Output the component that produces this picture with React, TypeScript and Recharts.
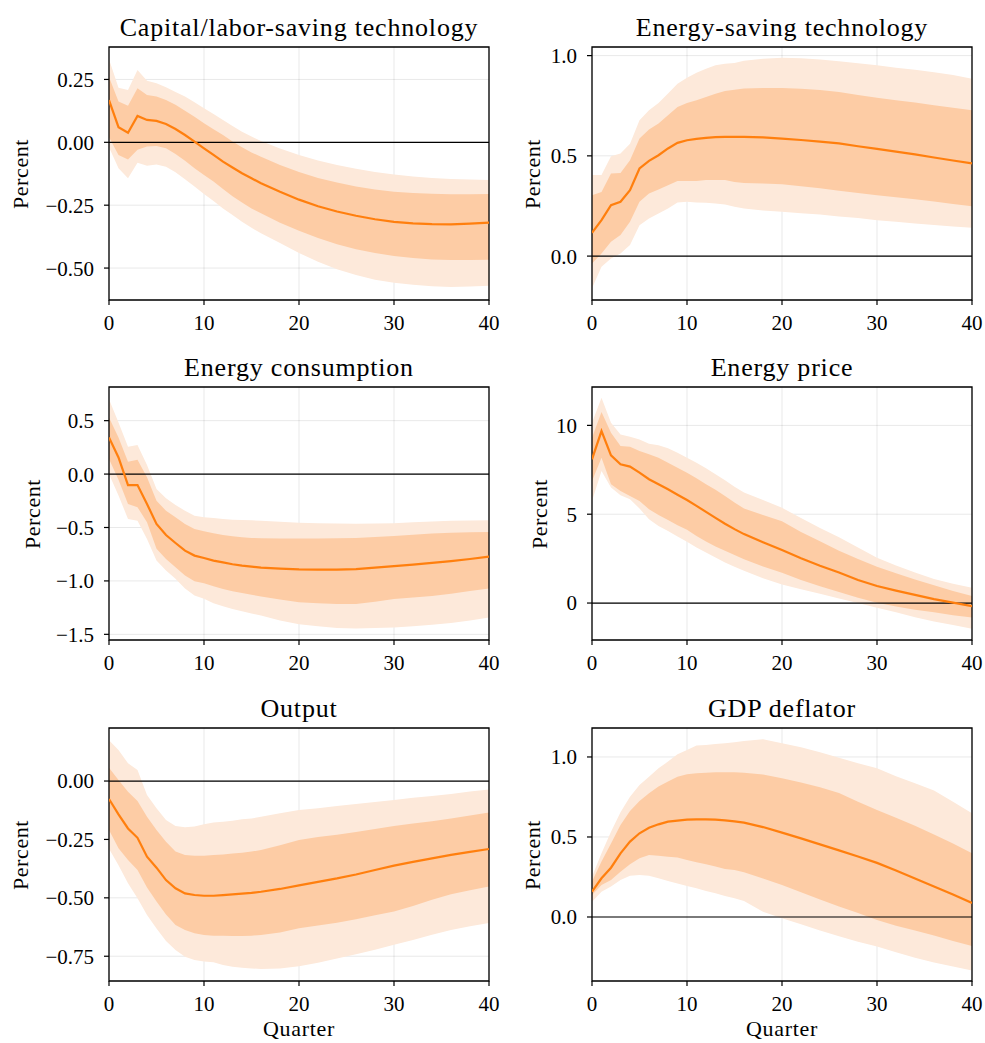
import { ComposedChart, Area, Line, XAxis, YAxis, CartesianGrid, ReferenceLine, ReferenceArea } from "recharts";

const FONT = '"Liberation Serif", "Times New Roman", serif';

// quarters (every quarter early on, every other one later)
const QUARTERS = [0, 1, 2, 3, 4, 5, 6, 7, 8, 9, 10, 11, 12, 13, 14, 15, 16, 18, 20, 22, 24, 26, 28, 30, 32, 34, 36, 38, 40];
const X_TICKS = [0, 10, 20, 30, 40];

// Capital/labor-saving technology
const CAP_MED = [0.168, 0.06, 0.038, 0.105, 0.089, 0.085, 0.073, 0.053, 0.029, 0.003, -0.024, -0.05, -0.077, -0.1, -0.123, -0.143, -0.163, -0.197, -0.228, -0.254, -0.275, -0.292, -0.306, -0.316, -0.322, -0.325, -0.326, -0.323, -0.319];
const CAP_IN_HI = [0.26, 0.162, 0.145, 0.215, 0.188, 0.182, 0.168, 0.149, 0.126, 0.102, 0.076, 0.052, 0.029, 0.003, -0.02, -0.04, -0.057, -0.09, -0.118, -0.142, -0.16, -0.176, -0.188, -0.197, -0.202, -0.205, -0.207, -0.207, -0.206];
const CAP_IN_LO = [0.02, -0.05, -0.068, -0.03, -0.017, -0.015, -0.024, -0.046, -0.073, -0.103, -0.13, -0.156, -0.186, -0.214, -0.239, -0.263, -0.282, -0.32, -0.352, -0.38, -0.405, -0.425, -0.44, -0.452, -0.46, -0.466, -0.468, -0.468, -0.467];
const CAP_OUT_HI = [0.33, 0.217, 0.208, 0.288, 0.245, 0.235, 0.219, 0.2, 0.182, 0.159, 0.135, 0.113, 0.089, 0.065, 0.042, 0.023, 0.005, -0.025, -0.05, -0.072, -0.09, -0.105, -0.118, -0.128, -0.136, -0.142, -0.146, -0.148, -0.15];
const CAP_OUT_LO = [-0.02, -0.103, -0.143, -0.081, -0.093, -0.088, -0.097, -0.119, -0.147, -0.176, -0.206, -0.233, -0.263, -0.289, -0.316, -0.34, -0.362, -0.4, -0.44, -0.475, -0.505, -0.528, -0.546, -0.558, -0.566, -0.572, -0.575, -0.573, -0.57];

// Energy-saving technology
const ES_MED = [0.116, 0.179, 0.254, 0.271, 0.329, 0.437, 0.475, 0.503, 0.537, 0.565, 0.578, 0.585, 0.59, 0.593, 0.595, 0.595, 0.595, 0.592, 0.586, 0.579, 0.571, 0.562, 0.548, 0.535, 0.521, 0.507, 0.492, 0.477, 0.462];
const ES_IN_HI = [0.304, 0.32, 0.412, 0.415, 0.478, 0.586, 0.631, 0.661, 0.703, 0.744, 0.764, 0.777, 0.794, 0.81, 0.824, 0.83, 0.836, 0.838, 0.839, 0.835, 0.828, 0.818, 0.803, 0.79, 0.778, 0.766, 0.752, 0.74, 0.728];
const ES_IN_LO = [-0.037, 0.013, 0.071, 0.105, 0.171, 0.271, 0.312, 0.332, 0.354, 0.374, 0.375, 0.375, 0.379, 0.379, 0.379, 0.37, 0.365, 0.362, 0.359, 0.348, 0.338, 0.326, 0.315, 0.304, 0.294, 0.284, 0.272, 0.26, 0.249];
const ES_OUT_HI = [0.404, 0.404, 0.498, 0.512, 0.561, 0.678, 0.728, 0.764, 0.811, 0.86, 0.89, 0.915, 0.935, 0.952, 0.96, 0.963, 0.975, 0.985, 0.99, 0.987, 0.981, 0.972, 0.962, 0.952, 0.94, 0.93, 0.917, 0.903, 0.885];
const ES_OUT_LO = [-0.16, -0.053, -0.012, 0.013, 0.055, 0.154, 0.188, 0.213, 0.238, 0.267, 0.271, 0.267, 0.266, 0.262, 0.257, 0.246, 0.238, 0.228, 0.221, 0.214, 0.208, 0.198, 0.19, 0.179, 0.171, 0.163, 0.155, 0.148, 0.141];

// Energy consumption
const EC_MED = [0.343, 0.156, -0.103, -0.103, -0.28, -0.467, -0.57, -0.645, -0.717, -0.763, -0.785, -0.81, -0.826, -0.844, -0.857, -0.866, -0.875, -0.885, -0.892, -0.895, -0.894, -0.89, -0.876, -0.862, -0.848, -0.832, -0.815, -0.795, -0.773];
const EC_IN_HI = [0.53, 0.343, 0.115, 0.134, -0.03, -0.25, -0.343, -0.405, -0.467, -0.514, -0.536, -0.555, -0.57, -0.583, -0.592, -0.598, -0.601, -0.603, -0.604, -0.603, -0.601, -0.598, -0.59, -0.58, -0.568, -0.556, -0.548, -0.545, -0.542];
const EC_IN_LO = [0.14, -0.053, -0.28, -0.31, -0.45, -0.7, -0.794, -0.872, -0.95, -1.003, -1.022, -1.05, -1.075, -1.097, -1.112, -1.13, -1.146, -1.175, -1.2, -1.21, -1.217, -1.215, -1.195, -1.17, -1.155, -1.14, -1.12, -1.095, -1.07];
const EC_OUT_HI = [0.7, 0.483, 0.255, 0.271, 0.084, -0.14, -0.227, -0.29, -0.343, -0.39, -0.405, -0.411, -0.42, -0.427, -0.43, -0.433, -0.436, -0.446, -0.455, -0.46, -0.463, -0.464, -0.462, -0.46, -0.452, -0.444, -0.438, -0.435, -0.433];
const EC_OUT_LO = [0.0, -0.2, -0.42, -0.436, -0.607, -0.81, -0.903, -0.98, -1.07, -1.137, -1.168, -1.209, -1.237, -1.262, -1.283, -1.305, -1.324, -1.37, -1.405, -1.425, -1.44, -1.445, -1.44, -1.436, -1.425, -1.41, -1.395, -1.37, -1.343];

// Energy price
const EP_MED = [8.09, 9.68, 8.31, 7.81, 7.68, 7.34, 6.97, 6.69, 6.4, 6.1, 5.8, 5.47, 5.13, 4.79, 4.46, 4.16, 3.88, 3.42, 2.98, 2.52, 2.1, 1.72, 1.3, 0.96, 0.7, 0.46, 0.22, 0.02, -0.17];
const EP_IN_HI = [9.31, 10.75, 9.59, 8.84, 8.8, 8.56, 8.37, 8.18, 7.9, 7.62, 7.34, 7.02, 6.69, 6.37, 6.03, 5.66, 5.32, 4.95, 4.6, 4.0, 3.48, 2.95, 2.48, 2.04, 1.68, 1.32, 1.0, 0.68, 0.39];
const EP_IN_LO = [6.87, 8.18, 6.69, 6.31, 6.03, 5.75, 5.28, 4.96, 4.68, 4.38, 4.12, 3.78, 3.46, 3.18, 2.94, 2.7, 2.47, 2.05, 1.7, 1.3, 0.95, 0.62, 0.3, 0.02, -0.2, -0.38, -0.52, -0.68, -0.82];
const EP_OUT_HI = [10.15, 11.55, 10.15, 9.49, 9.36, 9.21, 8.97, 8.88, 8.71, 8.46, 8.18, 7.9, 7.58, 7.25, 6.91, 6.55, 6.22, 5.8, 5.36, 4.78, 4.22, 3.7, 3.12, 2.55, 2.12, 1.72, 1.36, 1.08, 0.86];
const EP_OUT_LO = [5.75, 7.43, 6.5, 6.07, 5.84, 5.32, 4.72, 4.34, 4.06, 3.75, 3.45, 3.13, 2.85, 2.57, 2.28, 2.04, 1.82, 1.4, 1.05, 0.78, 0.52, 0.25, 0.0, -0.26, -0.52, -0.8, -1.04, -1.24, -1.44];

// Output
const OUT_MED = [-0.077, -0.143, -0.203, -0.243, -0.324, -0.371, -0.424, -0.459, -0.481, -0.488, -0.491, -0.491, -0.488, -0.485, -0.482, -0.479, -0.474, -0.462, -0.447, -0.432, -0.417, -0.4, -0.381, -0.362, -0.346, -0.331, -0.316, -0.303, -0.291];
const OUT_IN_HI = [0.057, 0.004, -0.046, -0.086, -0.153, -0.21, -0.26, -0.302, -0.317, -0.32, -0.32, -0.317, -0.314, -0.31, -0.307, -0.302, -0.295, -0.275, -0.252, -0.24, -0.23, -0.218, -0.205, -0.192, -0.182, -0.172, -0.16, -0.148, -0.135];
const OUT_IN_LO = [-0.21, -0.288, -0.338, -0.381, -0.456, -0.516, -0.571, -0.616, -0.638, -0.652, -0.659, -0.662, -0.662, -0.663, -0.663, -0.662, -0.659, -0.648, -0.63, -0.618, -0.607, -0.592, -0.575, -0.558, -0.535, -0.508, -0.485, -0.468, -0.452];
const OUT_OUT_HI = [0.175, 0.133, 0.076, 0.047, -0.06, -0.117, -0.167, -0.193, -0.198, -0.195, -0.185, -0.178, -0.174, -0.17, -0.164, -0.16, -0.153, -0.138, -0.124, -0.116, -0.107, -0.098, -0.09, -0.081, -0.072, -0.064, -0.055, -0.045, -0.036];
const OUT_OUT_LO = [-0.29, -0.36, -0.438, -0.502, -0.573, -0.631, -0.685, -0.723, -0.752, -0.766, -0.773, -0.776, -0.787, -0.795, -0.799, -0.802, -0.805, -0.803, -0.793, -0.778, -0.76, -0.742, -0.722, -0.701, -0.68, -0.658, -0.638, -0.622, -0.608];

// GDP deflator
const DEF_MED = [0.158, 0.242, 0.308, 0.398, 0.471, 0.523, 0.558, 0.579, 0.596, 0.602, 0.608, 0.61, 0.61, 0.608, 0.604, 0.598, 0.59, 0.562, 0.527, 0.491, 0.454, 0.416, 0.378, 0.338, 0.29, 0.241, 0.191, 0.14, 0.088];
const DEF_IN_HI = [0.221, 0.346, 0.46, 0.575, 0.663, 0.725, 0.773, 0.815, 0.846, 0.877, 0.892, 0.898, 0.902, 0.904, 0.904, 0.904, 0.902, 0.89, 0.867, 0.84, 0.81, 0.775, 0.72, 0.669, 0.62, 0.57, 0.515, 0.46, 0.398];
const DEF_IN_LO = [0.138, 0.2, 0.231, 0.283, 0.329, 0.367, 0.388, 0.383, 0.377, 0.371, 0.356, 0.342, 0.329, 0.315, 0.3, 0.294, 0.279, 0.24, 0.2, 0.155, 0.11, 0.065, 0.025, -0.019, -0.055, -0.085, -0.115, -0.15, -0.181];
const DEF_OUT_HI = [0.252, 0.398, 0.533, 0.654, 0.752, 0.825, 0.877, 0.929, 0.971, 1.017, 1.044, 1.071, 1.075, 1.081, 1.085, 1.092, 1.1, 1.11, 1.085, 1.06, 1.03, 0.995, 0.96, 0.929, 0.88, 0.835, 0.79, 0.72, 0.648];
const DEF_OUT_LO = [0.096, 0.158, 0.19, 0.231, 0.258, 0.263, 0.258, 0.242, 0.225, 0.21, 0.194, 0.179, 0.163, 0.148, 0.131, 0.117, 0.1, 0.033, -0.008, -0.045, -0.085, -0.12, -0.155, -0.185, -0.22, -0.255, -0.285, -0.31, -0.335];

const LINE = "#ff7f0e";
const BAND_OUTER = "#fde9da";
const BAND_INNER = "#fdcca5";

const PLOT_W = 380;
const PLOT_H = 253;
const Y_AXIS_W = 100;
const X_AXIS_H = 45;
const PAD_TOP = 6;
const PAD_RIGHT = 24;

type PanelDef = {
  title: string;
  med: number[];
  inLo: number[];
  inHi: number[];
  outLo: number[];
  outHi: number[];
  domain: [number, number];
  ticks: number[];
  digits: number;
  left: number;
  top: number;
  labelX: number;
};

const fmt = (v: number, d: number) => (v < 0 ? "\u2212" : "") + Math.abs(v).toFixed(d);

const PANELS: PanelDef[] = [
  { title: "Capital/labor-saving technology", med: CAP_MED, inLo: CAP_IN_LO, inHi: CAP_IN_HI, outLo: CAP_OUT_LO, outHi: CAP_OUT_HI, domain: [-0.627, 0.379], ticks: [-0.5, -0.25, 0, 0.25], digits: 2, left: 109, top: 47, labelX: 20.6 },
  { title: "Energy-saving technology", med: ES_MED, inLo: ES_IN_LO, inHi: ES_IN_HI, outLo: ES_OUT_LO, outHi: ES_OUT_HI, domain: [-0.219, 1.043], ticks: [0, 0.5, 1], digits: 1, left: 592, top: 47, labelX: 532.6 },
  { title: "Energy consumption", med: EC_MED, inLo: EC_IN_LO, inHi: EC_IN_HI, outLo: EC_OUT_LO, outHi: EC_OUT_HI, domain: [-1.553, 0.815], ticks: [-1.5, -1, -0.5, 0, 0.5], digits: 1, left: 109, top: 387, labelX: 32.6 },
  { title: "Energy price", med: EP_MED, inLo: EP_IN_LO, inHi: EP_IN_HI, outLo: EP_OUT_LO, outHi: EP_OUT_HI, domain: [-2.08, 12.16], ticks: [0, 5, 10], digits: 0, left: 592, top: 387, labelX: 539.6 },
  { title: "Output", med: OUT_MED, inLo: OUT_IN_LO, inHi: OUT_IN_HI, outLo: OUT_OUT_LO, outHi: OUT_OUT_HI, domain: [-0.856, 0.227], ticks: [-0.75, -0.5, -0.25, 0], digits: 2, left: 109, top: 728, labelX: 20.6 },
  { title: "GDP deflator", med: DEF_MED, inLo: DEF_IN_LO, inHi: DEF_IN_HI, outLo: DEF_OUT_LO, outHi: DEF_OUT_HI, domain: [-0.4, 1.181], ticks: [0, 0.5, 1], digits: 1, left: 592, top: 728, labelX: 532.6 }
];

function Panel({ p, showX }: { p: PanelDef; showX: boolean }) {
  const data = QUARTERS.map((q, i) => ({
    q,
    med: p.med[i],
    inner: [p.inLo[i], p.inHi[i]],
    outer: [p.outLo[i], p.outHi[i]]
  }));
  const tickStyle = { fontFamily: FONT, fontSize: 21, fill: "#000" };
  return (
    <>
      <div
        style={{
          position: "absolute",
          left: p.left,
          top: p.top - 32.5,
          width: PLOT_W,
          textAlign: "center",
          fontFamily: FONT,
          fontSize: 26,
          lineHeight: "26px",
          letterSpacing: 0.8,
          whiteSpace: "nowrap"
        }}
      >
        {p.title}
      </div>
      <div
        style={{
          position: "absolute",
          left: p.labelX - 100,
          top: p.top + PLOT_H / 2 - 11,
          width: 200,
          height: 22,
          lineHeight: "22px",
          textAlign: "center",
          fontFamily: FONT,
          fontSize: 22,
          letterSpacing: 0.6,
          transform: "rotate(-90deg)"
        }}
      >
        Percent
      </div>
      <div style={{ position: "absolute", left: p.left - Y_AXIS_W, top: p.top - PAD_TOP }}>
        <ComposedChart
          width={Y_AXIS_W + PLOT_W + PAD_RIGHT}
          height={PAD_TOP + PLOT_H + X_AXIS_H}
          data={data}
          margin={{ top: PAD_TOP, right: PAD_RIGHT, bottom: 0, left: 0 }}
        >
          <XAxis
            dataKey="q"
            type="number"
            domain={[0, 40]}
            ticks={X_TICKS}
            interval={0}
            allowDataOverflow
            height={X_AXIS_H}
            tickSize={5}
            tickMargin={10}
            axisLine={false}
            tickLine={{ stroke: "#000", strokeWidth: 1.2 }}
            tick={tickStyle}
          />
          <YAxis
            type="number"
            domain={p.domain}
            ticks={p.ticks}
            interval={0}
            allowDataOverflow
            width={Y_AXIS_W}
            tickSize={5}
            tickMargin={10}
            axisLine={false}
            tickLine={{ stroke: "#000", strokeWidth: 1.2 }}
            tick={tickStyle}
            tickFormatter={(v: number) => fmt(v, p.digits)}
          />
          <Area dataKey="outer" type="linear" stroke="none" fill={BAND_OUTER} fillOpacity={1} isAnimationActive={false} dot={false} activeDot={false} />
          <Area dataKey="inner" type="linear" stroke="none" fill={BAND_INNER} fillOpacity={1} isAnimationActive={false} dot={false} activeDot={false} />
          <CartesianGrid stroke="#000" strokeOpacity={0.09} strokeWidth={1} />
          <ReferenceLine y={0} stroke="#000" strokeWidth={1.2} />
          <Line dataKey="med" type="linear" stroke={LINE} strokeWidth={2.2} dot={false} activeDot={false} isAnimationActive={false} />
          <ReferenceArea x1={0} x2={40} y1={p.domain[0]} y2={p.domain[1]} fill="none" stroke="#000" strokeWidth={1.3} ifOverflow="visible" />
        </ComposedChart>
      </div>
      {showX && (
        <div
          style={{
            position: "absolute",
            left: p.left,
            top: 1017.6,
            width: PLOT_W,
            textAlign: "center",
            fontFamily: FONT,
            fontSize: 22,
            lineHeight: "22px",
            letterSpacing: 0.7
          }}
        >
          Quarter
        </div>
      )}
    </>
  );
}

export default function App() {
  return (
    <div style={{ position: "absolute", left: 0, top: 0, width: 985, height: 1043, background: "#fff", color: "#000" }}>
      {PANELS.map((p, i) => (
        <Panel key={p.title} p={p} showX={i >= 4} />
      ))}
    </div>
  );
}
